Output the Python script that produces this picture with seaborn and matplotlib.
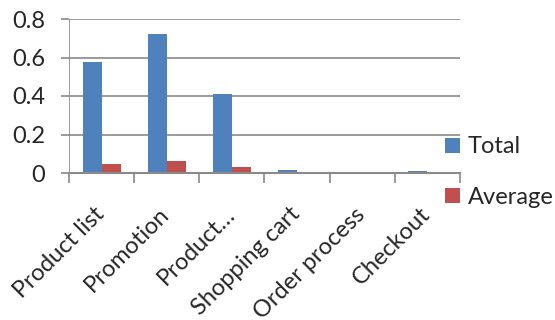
import matplotlib
matplotlib.use("Agg")
import matplotlib.pyplot as plt
import matplotlib.transforms as mtransforms
import seaborn as sns
import pandas as pd
from matplotlib.patches import Patch

categories = ["Product list", "Promotion", "Product…", "Shopping cart", "Order process", "Checkout"]
total = [0.575, 0.722, 0.409, 0.016, 0.004, 0.008]
average = [0.048, 0.061, 0.033, 0.001, 0.0005, 0.001]
series = ["Total", "Average"]
colors = ["#4F81BD", "#C0504D"]
yticks = [0, 0.2, 0.4, 0.6, 0.8]
ytick_labels = ["0", "0.2", "0.4", "0.6", "0.8"]

df = pd.DataFrame({
    "category": categories * 2,
    "series": [series[0]] * len(categories) + [series[1]] * len(categories),
    "value": total + average,
})

sns.set_theme(style="white")
plt.rcParams["font.family"] = ["Lato", "DejaVu Sans"]
FS = 17

fig = plt.figure(figsize=(5.55, 3.2), dpi=100)
ax = fig.add_axes([69 / 555, 1 - 173 / 320, (460 - 69) / 555, (173 - 19) / 320])

sns.barplot(data=df, x="category", y="value", hue="series", order=categories,
            hue_order=series, palette=colors, width=0.585, saturation=1,
            ax=ax, legend=False, edgecolor="none")

ax.set_xlim(-0.5, len(categories) - 0.5)
ax.set_ylim(0, 0.8)
ax.set_yticks(yticks)
ax.set_yticklabels(ytick_labels, fontsize=FS)
ax.set_xlabel("")
ax.set_ylabel("")

grid_color = "#8A8A8A"
for y in yticks[1:]:
    ax.axhline(y, color=grid_color, lw=1.2, zorder=0)

for s in ["top", "right", "left"]:
    ax.spines[s].set_visible(False)
ax.spines["bottom"].set_color(grid_color)
ax.spines["bottom"].set_linewidth(1.5)

ax.tick_params(axis="y", length=6, width=1.2, color=grid_color, left=True, pad=11, direction="out")
ax.axvline(-0.5, color=grid_color, lw=1.2, zorder=0)

# category boundaries carry the x tick marks
ax.set_xticks([i - 0.5 for i in range(len(categories) + 1)], minor=True)
ax.set_xticks(range(len(categories)))
ax.tick_params(axis="x", which="minor", length=7, width=1.2, color=grid_color, bottom=True, direction="out")
ax.tick_params(axis="x", which="major", length=0, pad=22)
ax.set_xticklabels(categories, rotation=45, ha="right", rotation_mode="anchor", fontsize=FS)
shift = mtransforms.ScaledTranslation(-8 / 100, 0, fig.dpi_scale_trans)
for lbl in ax.get_xticklabels():
    lbl.set_transform(lbl.get_transform() + shift)

handles = [Patch(facecolor=c, edgecolor="none") for c in colors]
fig.legend(handles, series, loc="upper left", bbox_to_anchor=(436 / 555, 1 - 127 / 320),
           frameon=False, fontsize=FS, handlelength=0.6, handleheight=0.6,
           handletextpad=0.35, labelspacing=1.25, borderaxespad=0)

fig.savefig("out.png", dpi=100)
